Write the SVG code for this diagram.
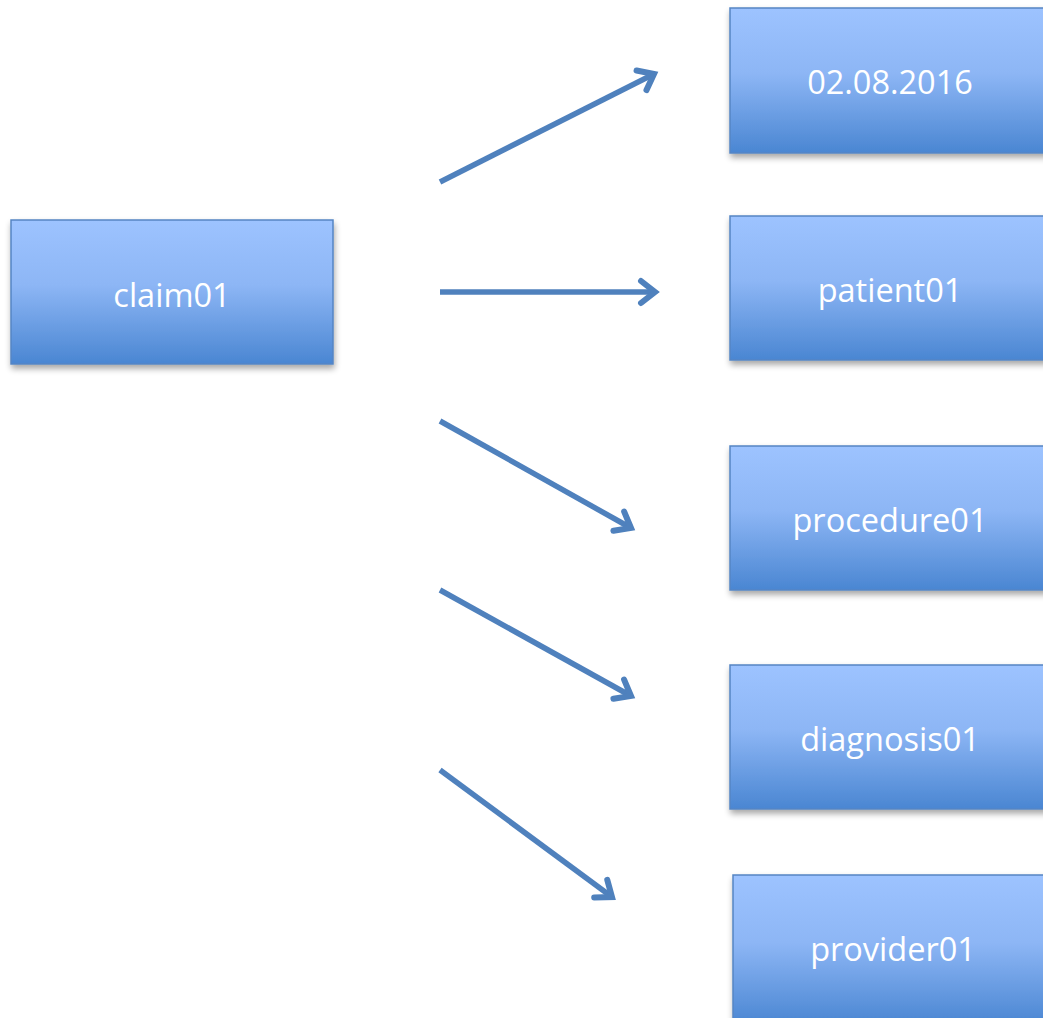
<svg xmlns="http://www.w3.org/2000/svg" width="1043" height="1018" viewBox="0 0 1043 1018">
<defs>
<linearGradient id="g" x1="0" y1="0" x2="0" y2="1">
<stop offset="0" stop-color="#9dc3ff"/>
<stop offset="0.45" stop-color="#8db6f5"/>
<stop offset="1" stop-color="#4a86d2"/>
</linearGradient>
<filter id="sh" x="-10%" y="-10%" width="130%" height="140%">
<feGaussianBlur in="SourceAlpha" stdDeviation="3"/>
<feOffset dx="1" dy="4" result="b"/>
<feComponentTransfer><feFuncA type="linear" slope="0.35"/></feComponentTransfer>
<feMerge><feMergeNode/><feMergeNode in="SourceGraphic"/></feMerge>
</filter>
<marker id="ah" markerUnits="userSpaceOnUse" markerWidth="30" markerHeight="30" refX="20" refY="15" orient="auto" viewBox="0 0 30 30">
<path d="M6 4 L20 15 L6 26" fill="none" stroke="#4f81bd" stroke-width="6" stroke-linecap="round" stroke-linejoin="miter"/>
</marker>
</defs>
<style>
.box{fill:url(#g);stroke:#5585c4;stroke-width:1.5;filter:url(#sh)}
.lbl{font-family:"Open Sans","Liberation Sans",sans-serif;font-size:32.5px;fill:#ffffff;text-anchor:middle;dominant-baseline:central}
.con{stroke:#4f81bd;stroke-width:5.5;fill:none;stroke-linecap:butt;marker-end:url(#ah)}
</style>
<rect width="1043" height="1018" fill="#ffffff"/>
<g id="connectors">
<line class="con" x1="440" y1="182" x2="654" y2="74"/>
<line class="con" x1="440" y1="292" x2="655" y2="292"/>
<line class="con" x1="440" y1="421" x2="631" y2="528"/>
<line class="con" x1="440" y1="590" x2="631" y2="696"/>
<line class="con" x1="440" y1="770" x2="612" y2="897"/>
</g>
<g id="claim01"><rect class="box" x="11" y="220" width="322" height="144"/><text class="lbl" x="172" y="294">claim01</text></g>
<g id="date"><rect class="box" x="730" y="8" width="320" height="145"/><text class="lbl" x="890" y="81">02.08.2016</text></g>
<g id="patient01"><rect class="box" x="730" y="216" width="320" height="144"/><text class="lbl" x="890" y="289">patient01</text></g>
<g id="procedure01"><rect class="box" x="730" y="446" width="320" height="144"/><text class="lbl" x="890" y="519">procedure01</text></g>
<g id="diagnosis01"><rect class="box" x="730" y="665" width="320" height="144"/><text class="lbl" x="890" y="738">diagnosis01</text></g>
<g id="provider01"><rect class="box" x="733" y="875" width="320" height="150"/><text class="lbl" x="893" y="948">provider01</text></g>
</svg>
